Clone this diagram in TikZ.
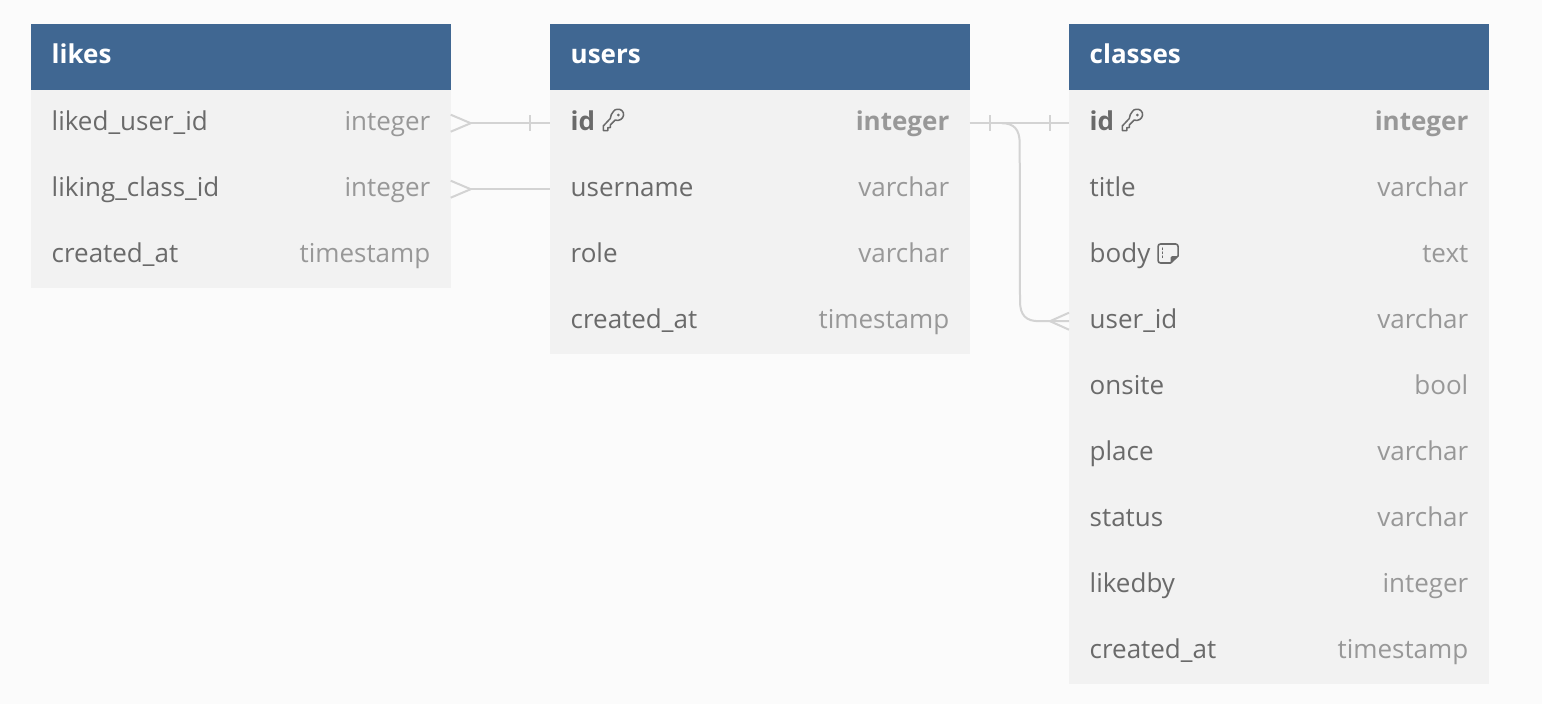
\documentclass[tikz,border=0pt]{standalone}
\usepackage{fontspec}
\setmainfont{Open Sans}
\usetikzlibrary{calc}
\definecolor{pagebg}{HTML}{FBFBFB}
\definecolor{rowbg}{HTML}{F2F2F2}
\definecolor{headbg}{HTML}{406792}
\definecolor{nametxt}{HTML}{6A6A6A}
\definecolor{typetxt}{HTML}{989898}
\definecolor{linkcol}{HTML}{D3D3D3}
\tikzset{
  x=1pt,y=-1pt,
  rowbox/.style={fill=rowbg,draw=none,minimum width=419.3pt,minimum height=66pt,inner sep=0pt,anchor=north west},
  headbox/.style={fill=headbg,draw=none,minimum width=419.3pt,minimum height=66pt,inner sep=0pt,anchor=north west},
  headtxt/.style={text=white,anchor=base west,inner sep=0pt,font=\fontsize{26}{30}\selectfont\bfseries},
  nametext/.style={text=nametxt,anchor=base west,inner sep=0pt,font=\fontsize{26}{30}\selectfont},
  typetext/.style={text=typetxt,anchor=base east,inner sep=0pt,font=\fontsize{26}{30}\selectfont},
  link/.style={draw=linkcol,line width=2pt},
  iconline/.style={draw=nametxt,line width=1.5pt,line join=round,line cap=round},
}
\newcommand{\tablehead}[4]{% id, x, y, title
  \node[headbox] (#1) at (#2,#3) {};
  \node[headtxt] (#1t) at (#2+20.5,#3+39.5) {#4};
}
\newcommand{\tablerow}[6]{% id, x, y, name, type, style extras
  \node[rowbox] (#1) at (#2,#3) {};
  \node[nametext,#6] (#1n) at (#2+20.5,#3+40) {#4};
  \node[typetext,#6] (#1y) at (#2+399.5,#3+40) {#5};
}
\begin{document}
\begin{tikzpicture}
\useasboundingbox[fill=pagebg] (0,0) rectangle (1542,704);
% likes
\tablehead{likes}{31}{24}{likes}
\tablerow{la}{31}{90}{liked\_user\_id}{integer}{}
\tablerow{lb}{31}{156}{liking\_class\_id}{integer}{}
\tablerow{lc}{31}{222}{created\_at}{timestamp}{}
% users
\tablehead{users}{550}{24}{users}
\tablerow{ua}{550}{90}{id}{integer}{font=\fontsize{26}{30}\selectfont\bfseries}
\tablerow{ub}{550}{156}{username}{varchar}{}
\tablerow{uc}{550}{222}{role}{varchar}{}
\tablerow{ud}{550}{288}{created\_at}{timestamp}{}
% classes
\tablehead{classes}{1069}{24}{classes}
\tablerow{ca}{1069}{90}{id}{integer}{font=\fontsize{26}{30}\selectfont\bfseries}
\tablerow{cb}{1069}{156}{title}{varchar}{}
\tablerow{cc}{1069}{222}{body}{text}{}
\tablerow{cd}{1069}{288}{user\_id}{varchar}{}
\tablerow{ce}{1069}{354}{onsite}{bool}{}
\tablerow{cf}{1069}{420}{place}{varchar}{}
\tablerow{cg}{1069}{486}{status}{varchar}{}
\tablerow{ch}{1069}{552}{likedby}{integer}{}
\tablerow{ci}{1069}{618}{created\_at}{timestamp}{}
% connectors
\draw[link] ([xshift=20pt]la.east) -- (ua.west);
\draw[link] ([xshift=20pt]la.east) -- ([yshift=8.5pt]la.east);
\draw[link] ([xshift=20pt]la.east) -- ([yshift=-8.5pt]la.east);
\draw[link] ([xshift=-20pt,yshift=8pt]ua.west) -- ([xshift=-20pt,yshift=-8pt]ua.west);
\draw[link] ([xshift=20pt]lb.east) -- (ub.west);
\draw[link] ([xshift=20pt]lb.east) -- ([yshift=8.5pt]lb.east);
\draw[link] ([xshift=20pt]lb.east) -- ([yshift=-8.5pt]lb.east);
\draw[link] (ua.east) -- (ca.west);
\draw[link] ([xshift=20pt,yshift=8pt]ua.east) -- ([xshift=20pt,yshift=-8pt]ua.east);
\draw[link] ([xshift=-19pt,yshift=8pt]ca.west) -- ([xshift=-19pt,yshift=-8pt]ca.west);
\draw[link] ([xshift=32pt]ua.east) .. controls ([xshift=44pt]ua.east) and ([xshift=50pt,yshift=-6pt]ua.east) .. ([xshift=50pt,yshift=-20pt]ua.east)
  -- ([xshift=-49pt,yshift=20pt]cd.west) .. controls ([xshift=-49pt,yshift=6pt]cd.west) and ([xshift=-43pt]cd.west) .. ([xshift=-30pt]cd.west) -- (cd.west);
\draw[link] ([xshift=-19pt]cd.west) -- ([yshift=8.5pt]cd.west);
\draw[link] ([xshift=-19pt]cd.west) -- ([yshift=-8.5pt]cd.west);
% key icons
\foreach \n in {uan,can}{
  \begin{scope}[shift={($(\n.base east)+(7.5pt,19.5pt)$)},iconline,line width=1.5pt]
    \draw (11,0.5) .. controls (12,-1.5) and (17,-2) .. (19,0) .. controls (22,2.5) and (21,7) .. (18,9) .. controls (16,10.5) and (13.5,10) .. (12.5,9.5) -- (7.5,14.5) -- (7.5,17) -- (5,17) -- (5,20) -- (0.5,20) -- (0.5,15.5) -- (7.5,8) .. controls (7.5,5.5) and (9,2.5) .. (11,0.5);
    \fill[nametxt,draw=none] (15.5,4.5) circle[radius=1.5];
  \end{scope}
}
% note icon
\begin{scope}[shift={($(ccn.base east)+(7.5pt,18pt)$)},iconline,line width=1.6pt]
  \draw (2.5,0) -- (17.5,0) .. controls (19,0) and (20,1) .. (20,2.5) -- (20,12) -- (12.5,19) -- (2.5,19) .. controls (1,19) and (0,18) .. (0,16.5) -- (0,2.5) .. controls (0,1) and (1,0) .. (2.5,0) -- cycle;
  \fill[nametxt,draw=none] (20,12) -- (14,12) .. controls (13,12) and (12.5,12.5) .. (12.5,13.5) -- (12.5,19) -- cycle;
  \draw[line width=1.2pt,dash pattern=on 1.5pt off 2.5pt] (4.5,4) -- (4.5,15);
\end{scope}
\end{tikzpicture}
\end{document}
